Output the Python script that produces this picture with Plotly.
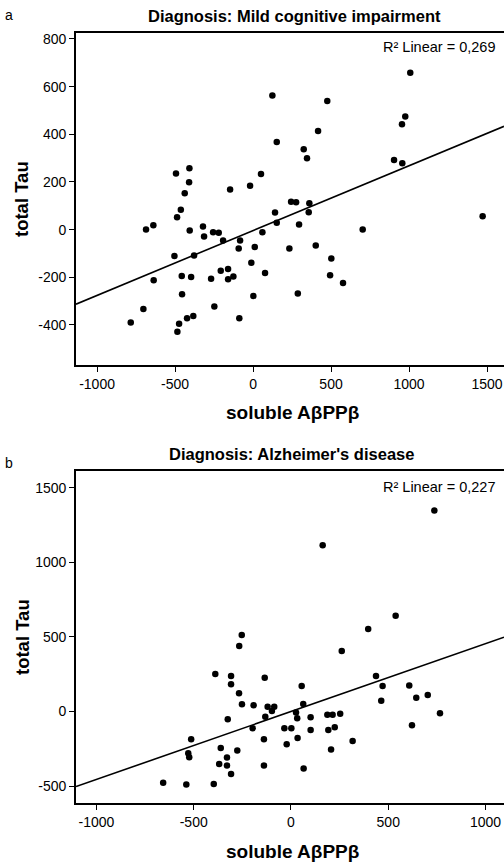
import plotly.graph_objects as go

# ---------------- data: panel a (Mild cognitive impairment) ----------------
mci_app = [-494, -408, -410, -438, -147, -19, 51, 124, 152, 476, 417, 325, 346,
           1008, 976, 955, 904, 957, -463, -487, -686, -639, -406, -321, -314,
           -256, -220, -192, -83, -92, 11, 60, 141, 152, -504, -378, -11, -637,
           -457, -397, -269, -207, -160, -160, -126, 77, -455, 2, -703, -248,
           -784, -474, -423, -383, -88, -485, 244, 276, 361, 357, 295, 233, 402,
           502, 494, 577, 287, 703, 1472]
mci_tau = [235, 258, 199, 153, 168, 184, 233, 563, 368, 540, 414, 337, 299,
           658, 475, 442, 292, 279, 83, 52, 1, 18, -4, 13, -29,
           -11, -13, -46, -46, -79, -73, -11, 72, 29, -111, -109, -139, -212,
           -195, -199, -206, -173, -165, -208, -197, -182, -271, -278, -333, -323,
           -390, -395, -372, -362, -372, -428, 117, 115, 111, 73, 21, -79, -67,
           -121, -191, -224, -268, 1, 56]
mci_fit_slope = 0.272
mci_fit_intercept = -4
mci_r2_label = "R² Linear = 0,269"
mci_title = "Diagnosis: Mild cognitive impairment"

# ---------------- data: panel b (Alzheimer's disease) ----------------
ad_app = [-253, 737, 163, 538, 397, -266, -389, -308, -308, -267, -252, -192,
          -135, -120, -86, -98, -132, -325, -197, -513, -139, -528, -523, -361,
          -276, -329, -369, -329, -308, -139, -657, -538, -397, 261, 55, 437,
          471, 608, 464, 644, 703, 766, 622, 63, 26, 32, 101, 187, 214, 253,
          -34, 2, 101, 192, 225, 34, -22, 317, 206, 65]
ad_tau = [512, 1347, 1114, 641, 552, 438, 251, 238, 182, 122, 48, 41,
          226, 32, 32, 3, -35, -52, -112, -186, -186, -280, -307, -246,
          -262, -309, -353, -363, -420, -363, -479, -490, -487, 405, 171, 238,
          171, 173, 72, 92, 110, -12, -92, 50, -8, -46, -39, -23, -23, -15,
          -112, -112, -124, -124, -106, -179, -220, -199, -256, -383]
ad_fit_slope = 0.455
ad_fit_intercept = -1
ad_r2_label = "R² Linear = 0,227"
ad_title = "Diagnosis: Alzheimer's disease"

# ---------------- axes: ranges and tick labels ----------------
a_xrange = [-1135, 1609]
a_yrange = [-568, 825]
a_xticks = [-1000, -500, 0, 500, 1000, 1500]
a_xticklabels = ["-1000", "-500", "0", "500", "1000", "1500"]
a_yticks = [-400, -200, 0, 200, 400, 600, 800]
a_yticklabels = ["-400", "-200", "0", "200", "400", "600", "800"]

b_xrange = [-1105, 1095]
b_yrange = [-614, 1612]
b_xticks = [-1000, -500, 0, 500, 1000]
b_xticklabels = ["-1000", "-500", "0", "500", "1000"]
b_yticks = [-500, 0, 500, 1000, 1500]
b_yticklabels = ["-500", "0", "500", "1000", "1500"]

x_title = "soluble AβPPβ"
y_title = "total Tau"

# ---------------- figure ----------------
W, H = 504, 862
FONT = "Liberation Sans, Arial, sans-serif"

def px(x):
    return x / W

def py(y):
    return 1 - y / H

fig = go.Figure()

fig.add_trace(go.Scatter(x=mci_app, y=mci_tau, mode="markers",
                         marker=dict(color="black", size=6.5),
                         xaxis="x", yaxis="y", showlegend=False))
fig.add_trace(go.Scatter(x=a_xrange,
                         y=[mci_fit_slope * v + mci_fit_intercept for v in a_xrange],
                         mode="lines", line=dict(color="black", width=1.6),
                         xaxis="x", yaxis="y", showlegend=False))

fig.add_trace(go.Scatter(x=ad_app, y=ad_tau, mode="markers",
                         marker=dict(color="black", size=6.5),
                         xaxis="x2", yaxis="y2", showlegend=False))
fig.add_trace(go.Scatter(x=b_xrange,
                         y=[ad_fit_slope * v + ad_fit_intercept for v in b_xrange],
                         mode="lines", line=dict(color="black", width=1.6),
                         xaxis="x2", yaxis="y2", showlegend=False))

xdom = [px(76), 1.0]
a_ydom = [py(365), py(33)]
b_ydom = [py(803), py(471)]

def xaxis_cfg(rng, tv, tt, anchor, dom):
    return dict(range=rng, domain=dom, anchor=anchor, tickvals=tv, ticktext=tt,
                showgrid=False, zeroline=False, showline=True, linecolor="black",
                linewidth=1.8, mirror=True, ticks="outside", ticklen=5, tickwidth=1.2,
                tickcolor="black", tickfont=dict(family=FONT, size=14, color="black"),
                automargin=False, fixedrange=True)

def yaxis_cfg(rng, tv, tt, anchor, dom):
    return dict(range=rng, domain=dom, anchor=anchor, tickvals=tv, ticktext=tt,
                showgrid=False, zeroline=False, showline=True, linecolor="black",
                linewidth=1.8, mirror=False, ticks="outside", ticklen=5, tickwidth=1.2,
                tickcolor="black", tickfont=dict(family=FONT, size=14, color="black"),
                automargin=False, fixedrange=True)

annotations = []
def ann(text, x, y, size, bold=False, xanchor="center", angle=0):
    t = f"<b>{text}</b>" if bold else text
    annotations.append(dict(text=t, x=px(x), y=py(y), xref="paper", yref="paper",
                            showarrow=False, xanchor=xanchor, yanchor="middle",
                            textangle=angle,
                            font=dict(family=FONT, size=size, color="black")))

ann("a", 9, 15, 14)
ann(mci_title, 294, 16, 16.5, bold=True)
ann(mci_r2_label, 497, 47, 14.5, xanchor="right")
ann(y_title, 22, 199, 18.5, bold=True, angle=-90)
ann(x_title, 292, 413, 19, bold=True)

ann("b", 9, 463, 14)
ann(ad_title, 291, 454, 16.5, bold=True)
ann(ad_r2_label, 497, 487, 14.5, xanchor="right")
ann(y_title, 22, 637, 18.5, bold=True, angle=-90)
ann(x_title, 292, 851, 19, bold=True)

fig.update_layout(
    width=W, height=H,
    margin=dict(l=0, r=0, t=0, b=0, pad=0),
    paper_bgcolor="white", plot_bgcolor="white",
    xaxis=xaxis_cfg(a_xrange, a_xticks, a_xticklabels, "y", xdom),
    yaxis=yaxis_cfg(a_yrange, a_yticks, a_yticklabels, "x", a_ydom),
    xaxis2=xaxis_cfg(b_xrange, b_xticks, b_xticklabels, "y2", xdom),
    yaxis2=yaxis_cfg(b_yrange, b_yticks, b_yticklabels, "x2", b_ydom),
    annotations=annotations,
    showlegend=False,
)

fig.write_html(
    "out.html",
    config=dict(displayModeBar=False),
    post_script=("document.body.style.margin='0';"
                 "document.body.style.overflow='hidden';"
                 "document.documentElement.style.overflow='hidden';"),
)
